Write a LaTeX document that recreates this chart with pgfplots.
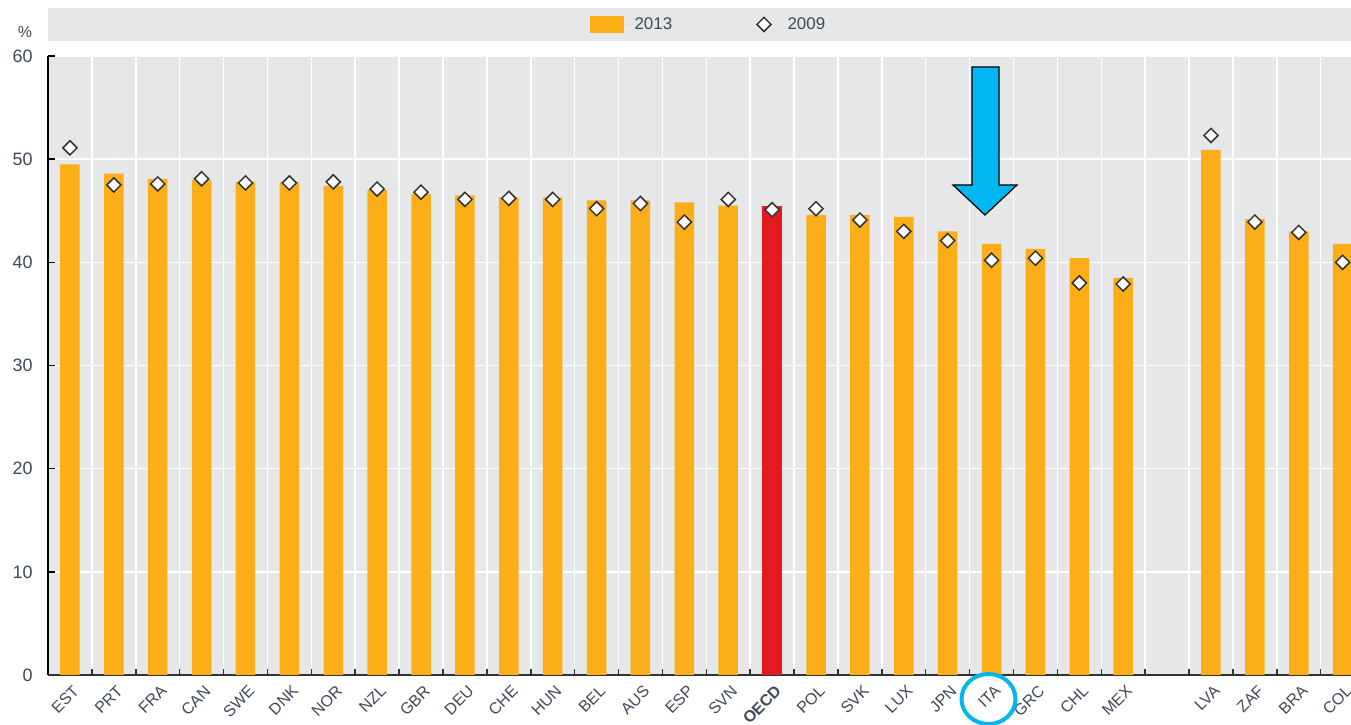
\documentclass[border=0pt]{standalone}
\usepackage{pgfplots}
\pgfplotsset{compat=1.18}
\usepackage{pgfplotstable}
\usepackage{fontspec}
\setmainfont{Liberation Sans}
\definecolor{barorange}{HTML}{FBAE17}
\definecolor{oecdred}{HTML}{E21B23}
\definecolor{bggray}{HTML}{E6E7E8}
\definecolor{txtgray}{HTML}{404858}
\definecolor{annblue}{HTML}{00B6F1}

% idx: category position; v13 = 2013 (bars), v09 = 2009 (diamonds)
\pgfplotstableread{
idx v13 v09
0  49.5 51.1
1  48.6 47.5
2  48.1 47.6
3  48.0 48.1
4  47.8 47.7
5  47.8 47.7
6  47.4 47.8
7  47.0 47.1
8  46.6 46.8
9  46.5 46.1
10 46.3 46.2
11 46.3 46.1
12 46.0 45.2
13 46.0 45.7
14 45.8 43.9
15 45.5 46.1
17 44.6 45.2
18 44.6 44.1
19 44.4 43.0
20 43.0 42.1
21 41.8 40.2
22 41.3 40.4
23 40.4 38.0
24 38.5 37.9
26 50.9 52.3
27 44.2 43.9
28 43.0 42.9
29 41.8 40.0
}\countries

\pgfplotstableread{
idx v13 v09
16 45.5 45.1
}\oecd

\begin{document}
\begin{tikzpicture}
\useasboundingbox (0,0) rectangle (1351bp,725bp);
% legend band
\fill[bggray] (48bp,684bp) rectangle (1351bp,717bp);
\node[text=txtgray, font=\fontsize{16}{16}\selectfont] at (25bp,693bp) {\%};
\begin{axis}[
  at={(48bp,50bp)}, anchor=south west,
  scale only axis, width=1303bp, height=619bp,
  xmin=-0.5, xmax=29.19, ymin=0, ymax=60,
  axis background/.style={fill=bggray},
  axis x line*=bottom, axis y line*=left,
  axis line style={-, line width=1.5bp},
  x axis line style={draw=black!80},
  y axis line style={draw=black},
  ytick={0,10,...,60},
  xtick={0,1,...,24,26,27,28,29},
  xticklabels={EST,PRT,FRA,CAN,SWE,DNK,NOR,NZL,GBR,DEU,CHE,HUN,BEL,AUS,ESP,SVN,\textbf{OECD},POL,SVK,LUX,JPN,ITA,GRC,CHL,MEX,LVA,ZAF,BRA,COL},
  minor xtick={-0.5,0.5,...,28.5},
  xminorgrids=true, ymajorgrids=true, xmajorgrids=false,
  minor grid style={white, line width=1.5bp},
  major grid style={white, line width=1.5bp},
  tick align=inside,
  major x tick style={draw=none},
  minor x tick style={draw=black!80, line width=1.5bp},
  y tick style={draw=black, line width=1.5bp},
  minor tick length=6bp, major tick length=7bp,
  /pgf/number format/assume math mode=true,
  yticklabel style={font=\fontsize{18}{18}\selectfont, text=txtgray, xshift=-12bp},
  xticklabel style={rotate=45, anchor=north east, font=\fontsize{16}{16}\selectfont, text=txtgray, inner sep=0pt, xshift=-5bp, yshift=-8bp},
  legend style={at={(0.5068,1.051)}, anchor=center, draw=none, fill=none,
    legend columns=2, font=\fontsize{17}{17}\selectfont, text=txtgray,
    /tikz/every even column/.append style={column sep=82bp}},
]
\addplot[ybar, bar width=19.5bp, bar shift=0pt, fill=barorange, draw=none,
  legend image code/.code={\fill[barorange] (0bp,-8.5bp) rectangle (34bp,8.5bp);
    \path[draw=none] (0bp,0bp) -- (43bp,0bp);}]
  table[x=idx, y=v13]{\countries};
\addlegendentry{2013}
\addplot[ybar, bar width=19.5bp, bar shift=0pt, fill=oecdred, draw=none, forget plot]
  table[x=idx, y=v13]{\oecd};
\addplot[only marks, mark=square*, mark size=5bp,
  mark options={rotate=45, fill=white, draw=black!80, line width=1.5bp},
  legend image code/.code={\draw[fill=white, draw=black!80, line width=1.5bp]
      (7.5bp,7.07bp) -- (14.57bp,0bp) -- (7.5bp,-7.07bp) -- (0.43bp,0bp) -- cycle;
    \path[draw=none] (0bp,0bp) -- (29bp,0bp);}]
  table[x=idx, y=v09]{\countries};
\addlegendentry{2009}
\addplot[only marks, mark=square*, mark size=5bp, forget plot,
  mark options={rotate=45, fill=white, draw=black!80, line width=1.5bp}]
  table[x=idx, y=v09]{\oecd};
\end{axis}
% annotations: arrow pointing at ITA, circle around its label
\filldraw[fill=annblue, draw=black, line width=1.2bp]
  (972bp,658bp) -- (999bp,658bp) -- (999bp,540bp) -- (1017bp,540bp)
  -- (985bp,510bp) -- (953bp,540bp) -- (972bp,540bp) -- cycle;
\draw[annblue, line width=4bp] (988.5bp,26bp) ellipse (27bp and 25bp);
\end{tikzpicture}
\end{document}
